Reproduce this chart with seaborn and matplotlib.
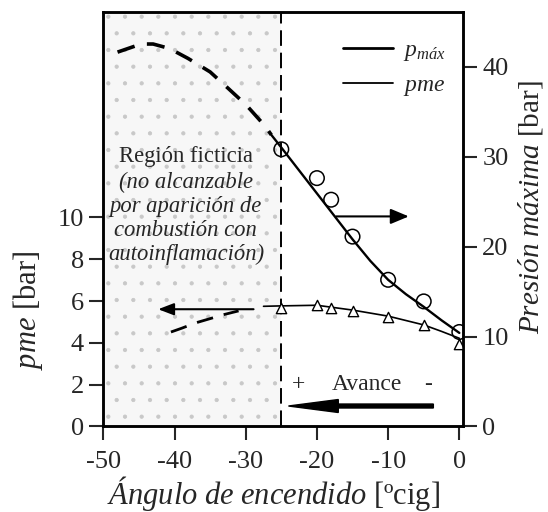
import matplotlib
matplotlib.use("Agg")
import matplotlib.pyplot as plt
import seaborn as sns
from matplotlib.lines import Line2D

# ---- data ----
angle_pts = [-25, -20, -18, -15, -10, -5, 0]
pmax_pts = [30.8, 27.6, 25.2, 21.1, 16.3, 13.9, 10.5]
pme_pts = [5.68, 5.81, 5.66, 5.54, 5.25, 4.86, 3.93]

# fitted curves, attainable region (solid)
pmax_fit_ang = [-26.4, -25, -20, -15, -12.5, -10, -7.5, -5, -2.5, 0]
pmax_fit_val = [32.4, 31.0, 25.9, 20.8, 18.4, 16.3, 14.7, 13.3, 11.8, 10.4]
pme_fit_ang = [-27.5, -25, -20, -15, -10, -5, -2.5, 0]
pme_fit_val = [5.75, 5.77, 5.80, 5.57, 5.28, 4.86, 4.55, 4.22]

# extrapolated curves, fictitious region (dashed)
pmax_ext_ang = [-48, -44.7, -43, -40.7, -38.1, -35, -32.5, -29.9, -27.3, -26.4]
pmax_ext_val = [41.6, 42.5, 42.5, 42.0, 40.9, 39.4, 37.6, 35.7, 33.4, 32.4]
pme_ext_ang = [-40.5, -39, -37, -35, -33, -31]
pme_ext_val = [4.52, 4.70, 4.96, 5.16, 5.36, 5.53]

limit_angle = -25

sns.set_style("ticks")
plt.rcParams["font.family"] = ["Liberation Serif", "DejaVu Serif"]
plt.rcParams["mathtext.fontset"] = "custom"
plt.rcParams["mathtext.rm"] = "Liberation Serif"
plt.rcParams["mathtext.it"] = "Liberation Serif:italic"
plt.rcParams["axes.unicode_minus"] = False
plt.rcParams["hatch.linewidth"] = 0.6

fig = plt.figure(figsize=(5.48, 5.12), dpi=100)
ax = fig.add_axes([0.1885, 0.167, 0.8447 - 0.1885, 0.9766 - 0.167])
ax2 = ax.twinx()

# shaded fictitious region
ax.axvspan(-50, limit_angle, facecolor="#f7f7f7", edgecolor="#c8c8c8",
           hatch=".", lw=0, zorder=0)
ax.axvline(limit_angle, color="black", lw=1.4, ls=(0, (8, 3.5)), zorder=2)

# pme (left axis)
sns.lineplot(x=pme_fit_ang, y=pme_fit_val, ax=ax, color="black", lw=1.2,
             sort=False, estimator=None)
sns.lineplot(x=pme_ext_ang, y=pme_ext_val, ax=ax, color="black", lw=2.0,
             sort=False, estimator=None)
ax.lines[-1].set_linestyle((0, (6, 4)))
sns.scatterplot(x=angle_pts, y=pme_pts, ax=ax, marker="^", s=55,
                facecolor="white", edgecolor="black", linewidth=1.0, zorder=4)

# pmax (right axis)
sns.lineplot(x=pmax_fit_ang, y=pmax_fit_val, ax=ax2, color="black", lw=1.7,
             sort=False, estimator=None)
sns.lineplot(x=pmax_ext_ang, y=pmax_ext_val, ax=ax2, color="black", lw=2.6,
             sort=False, estimator=None)
ax2.lines[-1].set_linestyle((0, (5, 3.5)))
sns.scatterplot(x=angle_pts, y=pmax_pts, ax=ax2, marker="o", s=110,
                facecolor="none", edgecolor="black", linewidth=1.1, zorder=4)

ax.set_xlim(-50, 0.5)
ax.set_ylim(0, 19.83)
ax2.set_ylim(0, 46.06)
ax.set_xticks([-50, -40, -30, -20, -10, 0])
ax.set_yticks([0, 2, 4, 6, 8, 10])
ax2.set_yticks([0, 10, 20, 30, 40])

for a in (ax, ax2):
    a.tick_params(direction="out", length=10, width=1.5, labelsize=19,
                  pad=4)
    for s in a.spines.values():
        s.set_visible(True)
        s.set_linewidth(1.8)
        s.set_color("black")
ax.tick_params(axis="x", pad=8)

ax.set_xlabel(r"$\mathit{Ángulo\ de\ encendido}$ [ºcig]", fontsize=22)
ax.xaxis.set_label_coords(0.473, -0.115)
ax.set_ylabel(r"$\mathit{pme}$ [bar]", fontsize=22)
ax.yaxis.set_label_coords(-0.162, 0.281)
ax2.set_ylabel(r"$\mathit{Presión\ máxima}$ [bar]", fontsize=21)
ax2.yaxis.set_label_coords(1.148, 0.528)

# region text
ax.text(-38.4, 12.9, "Región ficticia", ha="center", va="center",
        fontsize=16.3, zorder=5)
ax.text(-38.4, 9.95,
        "(no alcanzable\npor aparición de\ncombustión con\nautoinflamación)",
        ha="center", va="center", fontsize=16.3, style="italic",
        linespacing=1.2, zorder=5)

# arrows indicating axes
ax.annotate("", xy=(-7.1, 10.05), xytext=(-17.3, 10.05),
            arrowprops=dict(arrowstyle="-|>,head_length=0.55,head_width=0.23",
                            mutation_scale=20, lw=1.5, color="black",
                            shrinkA=0, shrinkB=0), zorder=5)
ax.annotate("", xy=(-42.3, 5.61), xytext=(-28.9, 5.61),
            arrowprops=dict(arrowstyle="-|>,head_length=0.47,head_width=0.18",
                            mutation_scale=20, lw=1.5, color="black",
                            shrinkA=0, shrinkB=0), zorder=5)

# Avance
ax.text(-22.6, 1.99, "+", ha="center", va="center", fontsize=17, zorder=5)
ax.text(-13.0, 1.99, "Avance", ha="center", va="center", fontsize=17, zorder=5)
ax.text(-4.35, 1.99, "-", ha="center", va="center", fontsize=17, zorder=5)
ax.arrow(-3.65, 0.98, -20.35, 0, width=0.19, head_width=0.62, head_length=7.0,
         length_includes_head=True, color="black", zorder=5)

# legend
handles = [Line2D([], [], color="black", lw=2.0),
           Line2D([], [], color="black", lw=1.3)]
labels = [r"$\mathit{p}_{\mathit{máx}}$", r"$\mathit{pme}$"]
ax2.legend(handles, labels, loc="upper right", frameon=False,
           fontsize=17, handlelength=2.1, handletextpad=0.4,
           labelspacing=0.5, bbox_to_anchor=(0.99, 0.968),
           borderaxespad=0.2)

fig.savefig("out.png", dpi=100)
